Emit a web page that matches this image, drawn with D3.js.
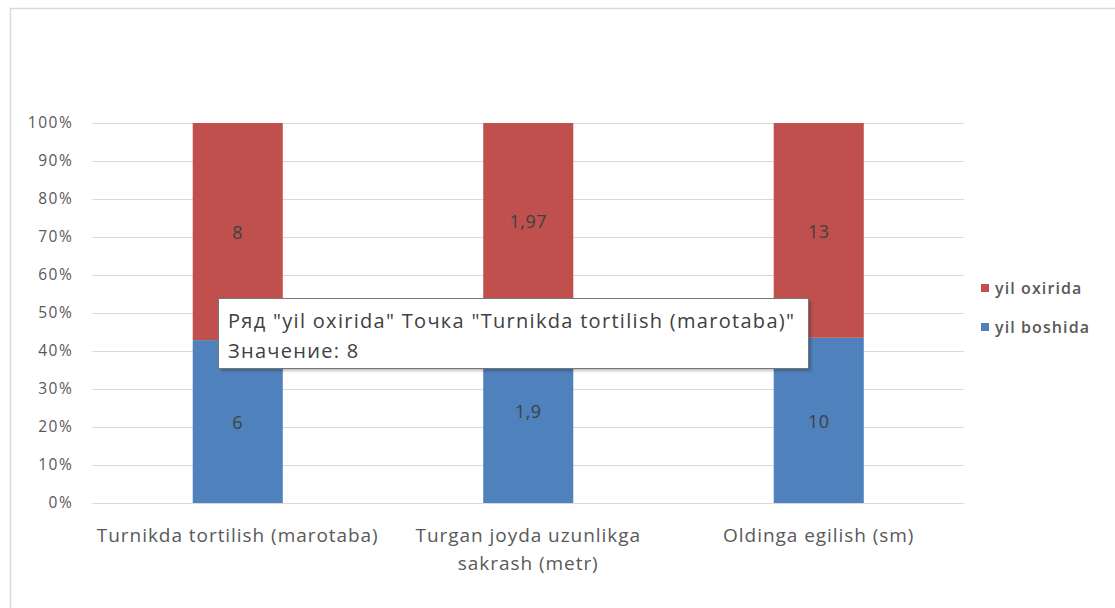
<!DOCTYPE html>
<html>
<head>
<meta charset="utf-8">
<script src="https://cdn.jsdelivr.net/npm/d3@7"></script>
<style>
  html, body { margin: 0; padding: 0; background: #fff; }
  svg { display: block; }
  text { font-family: "Open Sans", "Noto Sans", sans-serif; }
</style>
</head>
<body>
<svg id="chart" width="1115" height="608"></svg>
<script>
// Categories (x-axis), one line per entry in each label
const categories = ["Turnikda tortilish (marotaba)", "Turgan joyda uzunlikga sakrash (metr)", "Oldinga egilish (sm)"];
const categoryLines = [["Turnikda tortilish (marotaba)"], ["Turgan joyda uzunlikga", "sakrash (metr)"], ["Oldinga egilish (sm)"]];

// Series values
const seriesNames = ["yil boshida", "yil oxirida"];
const yilBoshida = [6, 1.9, 10];
const yilOxirida = [8, 1.97, 13];
const valueLabels = { "yil boshida": ["6", "1,9", "10"], "yil oxirida": ["8", "1,97", "13"] };

// Y-axis tick values (fractions of 100%)
const yTicks = [0, 0.1, 0.2, 0.3, 0.4, 0.5, 0.6, 0.7, 0.8, 0.9, 1];

const colors = { "yil boshida": "#4F81BD", "yil oxirida": "#C0504D" };

const svg = d3.select("#chart");

// Chart area frame
svg.append("rect")
  .attr("x", 10.5).attr("y", 8.5)
  .attr("width", 1130).attr("height", 640)
  .attr("fill", "#fff").attr("stroke", "#d9d9d9").attr("stroke-width", 1.5);

const plot = { left: 92.5, right: 964, top: 123, bottom: 503 };

const x = d3.scaleBand()
  .domain(categories)
  .range([plot.left, plot.right])
  .paddingInner(0.69)
  .paddingOuter(0.345);

const y = d3.scaleLinear().domain([0, 1]).range([plot.bottom, plot.top]);

// Build rows and stack as 100%
const rows = categories.map((c, i) => ({ cat: c, "yil boshida": yilBoshida[i], "yil oxirida": yilOxirida[i] }));
const stack = d3.stack().keys(seriesNames).offset(d3.stackOffsetExpand);
const stacked = stack(rows);

// Gridlines + y axis labels
const yAxis = d3.axisLeft(y)
  .tickValues(yTicks)
  .tickFormat(d3.format(".0%"))
  .tickSize(-(plot.right - plot.left))
  .tickPadding(19);

const gy = svg.append("g")
  .attr("transform", `translate(${plot.left},0)`)
  .call(yAxis);
gy.select(".domain").remove();
gy.selectAll(".tick line").attr("stroke", "#d9d9d9").attr("stroke-width", 1);
gy.selectAll(".tick text")
  .attr("fill", "#595959")
  .style("font-size", "15.5px")
  .style("letter-spacing", "1.6px");

// Bars
const layers = svg.append("g").selectAll("g")
  .data(stacked)
  .join("g")
  .attr("fill", d => colors[d.key]);

layers.selectAll("rect")
  .data(d => d)
  .join("rect")
  .attr("x", d => x(d.data.cat))
  .attr("width", x.bandwidth())
  .attr("y", d => y(d[1]))
  .attr("height", d => y(d[0]) - y(d[1]));

// Value labels centred in each segment
stacked.forEach(layer => {
  svg.append("g").selectAll("text")
    .data(layer)
    .join("text")
    .attr("x", d => x(d.data.cat) + x.bandwidth() / 2)
    .attr("y", d => (y(d[0]) + y(d[1])) / 2 + 1.5)
    .attr("dy", "0.35em")
    .attr("text-anchor", "middle")
    .attr("fill", "#404040")
    .style("font-size", "18px")
    .style("letter-spacing", "0.5px")
    .text((d, i) => valueLabels[layer.key][i]);
});

// X axis
const xAxis = d3.axisBottom(x).tickSize(0).tickFormat("");
const gx = svg.append("g")
  .attr("transform", `translate(0,${plot.bottom})`)
  .call(xAxis);
gx.select(".domain").attr("stroke", "#d9d9d9").attr("stroke-width", 1);

gx.selectAll(".tick").each(function(d, i) {
  const t = d3.select(this).append("text")
    .attr("text-anchor", "middle")
    .attr("fill", "#595959")
    .style("font-size", "19px")
    .style("letter-spacing", "0.95px");
  categoryLines[i].forEach((line, j) => {
    t.append("tspan").attr("x", 0).attr("y", 39 + j * 28).text(line);
  });
});

// Legend
const legendItems = ["yil oxirida", "yil boshida"];
const legend = svg.append("g").selectAll("g")
  .data(legendItems)
  .join("g")
  .attr("transform", (d, i) => `translate(981,${284 + i * 39})`);
legend.append("rect")
  .attr("width", 8).attr("height", 8)
  .attr("fill", d => colors[d]);
legend.append("text")
  .attr("x", 14).attr("y", 4).attr("dy", "0.35em")
  .attr("fill", "#595959")
  .style("font-size", "16px")
  .style("font-weight", "600")
  .style("letter-spacing", "1.1px")
  .text(d => d);

// Hover tooltip for the first "yil oxirida" point
const tipSeries = "yil oxirida";
const tipIndex = 0;
const tip = svg.append("g").attr("transform", "translate(218,298)");
tip.append("rect")
  .attr("x", 3).attr("y", 3).attr("width", 590).attr("height", 70)
  .attr("fill", "#000").attr("opacity", 0.25)
  .style("filter", "blur(1.5px)");
tip.append("rect")
  .attr("x", 0.5).attr("y", 0.5).attr("width", 590).attr("height", 70)
  .attr("fill", "#fff").attr("stroke", "#767676").attr("stroke-width", 1);
const tipText = tip.append("text")
  .attr("fill", "#404040")
  .style("font-size", "20px")
  .style("letter-spacing", "1.3px");
tipText.append("tspan").attr("x", 10).attr("y", 30)
  .text(`Ряд "${tipSeries}" Точка "${categories[tipIndex]}"`);
tipText.append("tspan").attr("x", 10).attr("y", 60)
  .text(`Значение: ${yilOxirida[tipIndex]}`);
</script>
</body>
</html>
